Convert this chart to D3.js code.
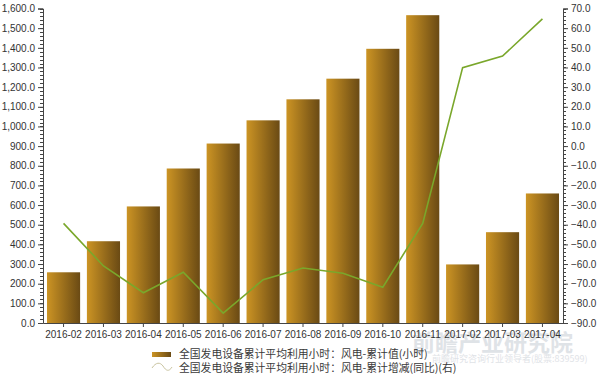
<!DOCTYPE html>
<html>
<head>
<meta charset="utf-8">
<script src="https://cdn.jsdelivr.net/npm/d3@7"></script>
<style>
body { margin: 0; background: #fff; }
text { font-family: "Liberation Sans", Arial, sans-serif; }
</style>
</head>
<body>
<div id="chart"></div>
<script>
width = 600
height = 378

let months = ["2016-02", "2016-03", "2016-04", "2016-05", "2016-06", "2016-07", "2016-08", "2016-09", "2016-10", "2016-11", "2017-02", "2017-03", "2017-04"]
let hours = [258, 416, 593, 786, 913, 1031, 1138, 1243, 1395, 1566, 298, 462, 659]
let growth = [-39.3, -61, -74.6, -64.2, -85, -68, -62, -64.7, -71.8, -39.3, 39.9, 45.8, 64.7]
let leftTicks = d3.range(0, 1601, 100)
let rightTicks = d3.range(-90, 71, 10)
let seriesNames = ["全国发电设备累计平均利用小时：风电-累计值(小时)", "全国发电设备累计平均利用小时：风电-累计增减(同比)(右)"]

let svg = d3.select("#chart")
.append("svg")
.attr("width", width)
.attr("height", height)

let grad = svg.append("defs").append("linearGradient")
.attr("id", "barGrad")
.attr("x1", "0%").attr("x2", "100%").attr("y1", "0%").attr("y2", "0%")
grad.append("stop").attr("offset", "0%").attr("stop-color", "#cc9424")
grad.append("stop").attr("offset", "100%").attr("stop-color", "#6a4a14")

let plotLeft = 43, plotRight = 563, plotTop = 8.5, plotBottom = 323

// watermark (behind everything)
svg.append("text")
.attr("x", 412)
.attr("y", 351)
.attr("font-size", "23")
.attr("font-weight", "bold")
.attr("fill", "#dfe3e7")
.style("font-family", "Noto Sans CJK SC")
.text("前瞻产业研究院")
svg.append("text")
.attr("x", 432)
.attr("y", 362)
.attr("font-size", "9")
.attr("fill", "#dfe3e7")
.style("font-family", "Noto Sans CJK SC")
.text("前瞻研究咨询行业领导者(股票:839599)")

let x = d3.scaleBand()
.domain(months)
.range([plotLeft, plotRight])
.paddingInner(0.17)
.paddingOuter(0.1)

let y = d3.scaleLinear().domain([0, 1600]).range([plotBottom, plotTop])
let y2 = d3.scaleLinear().domain([-90, 70]).range([plotBottom, plotTop])

// bars
svg.append("g")
.selectAll("rect")
.data(months)
.join("rect")
.attr("x", d => x(d))
.attr("width", x.bandwidth())
.attr("y", (d, i) => y(hours[i]))
.attr("height", (d, i) => plotBottom - y(hours[i]))
.attr("fill", "url(#barGrad)")

// line
let line = d3.line()
.x((d, i) => x(months[i]) + x.bandwidth() / 2)
.y(d => y2(d))

svg.append("path")
.datum(growth)
.attr("d", line)
.attr("fill", "none")
.attr("stroke", "#7aa72b")
.attr("stroke-width", 1.6)

// left axis
let leftAxis = svg.append("g")
.attr("transform", "translate(" + plotLeft + ",0)")
.call(d3.axisLeft(y).tickValues(leftTicks).tickSize(5).tickFormat(d3.format(",.1f")))
leftAxis.append("g")
.selectAll("line")
.data(d3.range(0, 1601, 20))
.join("line")
.attr("x1", 0).attr("x2", -3)
.attr("y1", d => Math.round(y(d)) + 0.5).attr("y2", d => Math.round(y(d)) + 0.5)
.attr("stroke", "#444")

// right axis
let rightAxis = svg.append("g")
.attr("transform", "translate(" + plotRight + ",0)")
.call(d3.axisRight(y2).tickValues(rightTicks).tickSize(5).tickFormat(d3.format(".1f")))
rightAxis.append("g")
.selectAll("line")
.data(d3.range(-90, 71, 2))
.join("line")
.attr("x1", 0).attr("x2", 3)
.attr("y1", d => Math.round(y2(d)) + 0.5).attr("y2", d => Math.round(y2(d)) + 0.5)
.attr("stroke", "#444")

// x axis
let xAxis = svg.append("g")
.attr("transform", "translate(0," + plotBottom + ")")
.call(d3.axisBottom(x).tickSize(4).tickSizeOuter(0).tickPadding(4))

svg.selectAll(".domain").attr("stroke", "#444")
svg.selectAll(".tick line").attr("stroke", "#444")
svg.selectAll(".tick text")
.attr("fill", "#333")
.style("font-size", "10px")
.style("font-family", "Liberation Sans, Arial, sans-serif")

// legend
let legend = svg.append("g")
legend.append("rect")
.attr("x", 152).attr("y", 352)
.attr("width", 19).attr("height", 5)
.attr("fill", "url(#barGrad)")
legend.append("path")
.attr("d", "M152,368 C156,362 160,362 163,366 C166,371 169,372 172,367")
.attr("fill", "none")
.attr("stroke", "#c9c4a0")
.attr("stroke-width", 1)

seriesNames.forEach((name, i) => {
	legend.append("text")
	.attr("x", 179)
	.attr("y", 358 + i * 14)
	.attr("font-size", "10.8")
	.attr("fill", "#3a3a3a")
	.style("font-family", "Noto Sans CJK SC")
	.text(name)
})
</script>
</body>
</html>
